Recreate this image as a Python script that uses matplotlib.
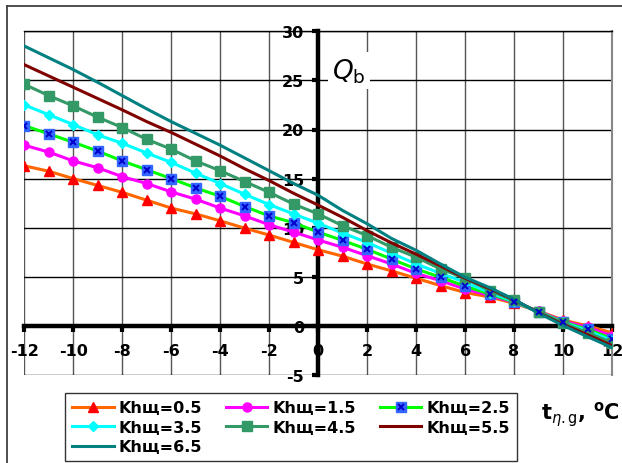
import numpy as np
import matplotlib
matplotlib.use("Agg")
import matplotlib.pyplot as plt
from matplotlib.lines import Line2D
from matplotlib.legend_handler import HandlerTuple

plt.rcParams['font.family'] = ['DejaVu Sans']
plt.rcParams['mathtext.fontset'] = 'dejavusans'
plt.rcParams['axes.unicode_minus'] = False

# data
t = list(range(-12, 13))
k_labels = ["Khщ=0.5", "Khщ=1.5", "Khщ=2.5", "Khщ=3.5", "Khщ=4.5", "Khщ=5.5", "Khщ=6.5"]
q_05 = [16.3, 15.75, 15.0, 14.3, 13.6, 12.8, 12.0, 11.4, 10.7, 9.95, 9.25, 8.5, 7.75,
        7.1, 6.3, 5.6, 4.85, 4.1, 3.4, 2.95, 2.3, 1.5, 0.6, 0.0, -0.7]
q_15 = [18.4, 17.7, 16.8, 16.1, 15.2, 14.5, 13.65, 12.9, 12.0, 11.2, 10.3, 9.55, 8.75,
        8.0, 7.15, 6.3, 5.35, 4.6, 3.75, 3.1, 2.4, 1.5, 0.5, -0.15, -1.0]
q_25 = [20.4, 19.55, 18.7, 17.8, 16.8, 15.9, 15.0, 14.05, 13.2, 12.15, 11.2, 10.5, 9.55,
        8.7, 7.8, 6.8, 5.8, 4.95, 4.05, 3.25, 2.45, 1.45, 0.4, -0.35, -1.3]
q_35 = [22.5, 21.5, 20.5, 19.45, 18.6, 17.6, 16.65, 15.55, 14.5, 13.4, 12.35, 11.4, 10.45,
        9.45, 8.5, 7.4, 6.3, 5.35, 4.45, 3.4, 2.5, 1.4, 0.35, -0.5, -1.5]
q_45 = [24.6, 23.45, 22.4, 21.25, 20.2, 19.0, 18.0, 16.8, 15.8, 14.7, 13.6, 12.4, 11.4,
        10.2, 9.2, 8.0, 7.0, 5.8, 4.85, 3.6, 2.6, 1.4, 0.3, -0.7, -1.7]
q_55 = [26.6, 25.45, 24.3, 23.15, 22.0, 20.8, 19.7, 18.5, 17.3, 16.0, 14.8, 13.5, 12.3,
        11.05, 9.7, 8.45, 7.3, 6.1, 4.85, 3.8, 2.65, 1.35, 0.15, -0.9, -2.0]
q_65 = [28.5, 27.3, 26.1, 24.8, 23.45, 22.1, 20.8, 19.6, 18.4, 17.1, 15.8, 14.5, 13.3,
        11.75, 10.4, 8.9, 7.7, 6.3, 4.95, 3.9, 2.7, 1.3, 0.05, -1.1, -2.2]
x_ticks = list(range(-12, 13, 2))
y_ticks = list(range(-5, 31, 5))

fig = plt.figure(figsize=(6.22, 4.64), dpi=100)
ax = fig.add_axes([24.3 / 622, 1 - 376 / 464, (612 - 24.3) / 622, (376 - 32.3) / 464])

# outer frame (top and left edges visible)
fig.add_artist(Line2D([7 / 622, 1.0], [1 - 7 / 464] * 2, transform=fig.transFigure, color='#404040', lw=1.3))
fig.add_artist(Line2D([7 / 622] * 2, [0.0, 1 - 7 / 464], transform=fig.transFigure, color='#404040', lw=1.3))

lw = 2.2
h1, = ax.plot(t, q_05, color='#FF6600', lw=lw, marker='^', ms=7.5, mfc='#FF0000', mec='#FF0000', zorder=3)
h2, = ax.plot(t, q_15, color='#FF00FF', lw=lw, marker='o', ms=6.5, mfc='#FF00FF', mec='#FF00FF', zorder=3)
h3a, = ax.plot(t, q_25, color='#00FF00', lw=lw, marker='s', ms=7.5, mfc='#3366FF', mec='#3366FF', zorder=3)
h3b, = ax.plot(t, q_25, ls='none', marker='x', ms=4, mec='#0000CC', mew=1.4, zorder=3.1)
h4, = ax.plot(t, q_35, color='#00FFFF', lw=lw, marker='D', ms=5.5, mfc='#00FFFF', mec='#00FFFF', zorder=3)
h5, = ax.plot(t, q_45, color='#339966', lw=lw, marker='s', ms=6.5, mfc='#339966', mec='#339966', zorder=3)
h6, = ax.plot(t, q_55, color='#800000', lw=lw, zorder=3)
h7, = ax.plot(t, q_65, color='#008080', lw=lw, zorder=3)

ax.set_xlim(-12, 12)
ax.set_ylim(-5, 30)
ax.set_xticks(x_ticks)
ax.set_yticks(y_ticks)
ax.xaxis.grid(True, color='#555555', lw=1.0)
ax.yaxis.grid(True, color='#000000', lw=1.0)
ax.set_axisbelow(True)

ax.spines['left'].set_position(('data', 0))
ax.spines['bottom'].set_position(('data', 0))
for s in ('left', 'bottom'):
    ax.spines[s].set_linewidth(3.2)
    ax.spines[s].set_zorder(2.6)
ax.spines['top'].set_linewidth(1.0)
ax.spines['right'].set_color('#888888')
ax.spines['right'].set_linewidth(1.5)

ax.tick_params(axis='both', direction='out', length=4, width=3, labelsize=11.5)
ax.tick_params(axis='x', pad=8)
ax.tick_params(axis='y', pad=6)
for lab in ax.get_xticklabels() + ax.get_yticklabels():
    lab.set_fontweight('bold')

ax.text(1.25, 26.0, r'$\mathit{Q}_{\mathrm{b}}$', fontsize=19, ha='center', va='center',
        bbox=dict(facecolor='white', edgecolor='none', pad=3), zorder=4)

fig.text(541 / 622, 1 - 415 / 464, r'$\mathbf{t}_{\eta.\mathrm{g}}$, $^{\mathbf{o}}$C', fontsize=15,
         fontweight='bold', ha='left', va='center')

handles = [h1, h4, h7, h2, h5, (h3a, h3b), h6]
labels = [k_labels[0], k_labels[3], k_labels[6], k_labels[1], k_labels[4], k_labels[2], k_labels[5]]
leg = fig.legend(handles, labels, ncol=3, loc='upper left', bbox_to_anchor=(65 / 622, 1 - 394 / 464),
                 bbox_transform=fig.transFigure, frameon=True, fancybox=False, borderaxespad=0,
                 prop={'weight': 'bold', 'size': 11.5}, handlelength=2.6, handletextpad=0.3,
                 labelspacing=0.28, columnspacing=1.5, borderpad=0.45,
                 handler_map={tuple: HandlerTuple(ndivide=1, pad=0)})
leg.get_frame().set_edgecolor('black')
leg.get_frame().set_linewidth(1.0)

fig.savefig('out.png', dpi=100)
